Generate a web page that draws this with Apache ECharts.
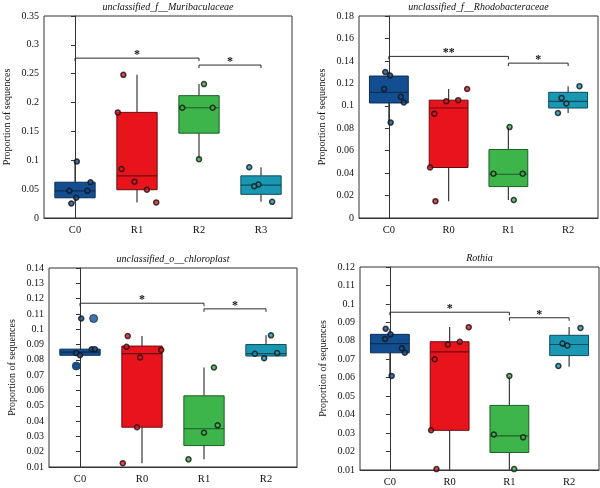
<!DOCTYPE html>
<html>
<head>
<meta charset="utf-8">
<script src="https://cdn.jsdelivr.net/npm/echarts@6/dist/echarts.min.js"></script>
<style>
  html, body { margin: 0; padding: 0; background: #fff; }
  #main { width: 600px; height: 488px; }
</style>
</head>
<body>
<div id="main"></div>
<script>
// panel 1
var title1 = 'unclassified_f__Muribaculaceae';
var cats1 = ['C0', 'R1', 'R2', 'R3'];
var box1 = [  // min, q1, median, q3, max
  [0.025, 0.035, 0.047, 0.062, 0.098],
  [0.027, 0.049, 0.073, 0.183, 0.248],
  [0.102, 0.147, 0.191, 0.212, 0.232],
  [0.028, 0.041, 0.057, 0.073, 0.088]
];
var pts1 = [
  [0.098, 0.062, 0.047, 0.047, 0.035, 0.025],
  [0.248, 0.183, 0.085, 0.063, 0.049, 0.027],
  [0.232, 0.191, 0.191, 0.102],
  [0.088, 0.058, 0.055, 0.028]
];
var jit1 = [
  [0.03, 0.25, -0.09, 0.2, 0.02, -0.06],
  [-0.22, -0.31, -0.25, -0.04, 0.16, 0.31],
  [0.08, -0.27, 0.22, 0],
  [-0.19, -0.04, -0.11, 0.18]
];
var sig1 = [[0, 2, 0.277], [2, 3, 0.265]];
var sigLab1 = ['*', '*'];

// panel 2
var title2 = 'unclassified_f__Rhodobacteraceae';
var cats2 = ['C0', 'R0', 'R1', 'R2'];
var box2 = [
  [0.085, 0.1025, 0.112, 0.1265, 0.130],
  [0.015, 0.045, 0.098, 0.105, 0.115],
  [0.016, 0.028, 0.039, 0.061, 0.081],
  [0.0935, 0.098, 0.104, 0.112, 0.1175]
];
var pts2 = [
  [0.130, 0.127, 0.115, 0.108, 0.103, 0.085],
  [0.115, 0.105, 0.104, 0.093, 0.045, 0.015],
  [0.081, 0.0395, 0.0395, 0.016],
  [0.1175, 0.107, 0.102, 0.0935]
];
var jit2 = [
  [-0.06, 0.02, -0.08, 0.2, 0.25, 0.03],
  [0.31, 0.16, -0.04, -0.24, -0.31, -0.22],
  [0.02, -0.25, 0.24, 0.09],
  [0.19, -0.11, -0.03, -0.17]
];
var sig2 = [[0, 2, 0.144], [2, 3, 0.138]];
var sigLab2 = ['**', '*'];

// panel 3
var title3 = 'unclassified_o__chloroplast';
var cats3 = ['C0', 'R0', 'R1', 'R2'];
var box3 = [
  [0.083, 0.083, 0.085, 0.087, 0.087],
  [0.0125, 0.036, 0.084, 0.089, 0.0955],
  [0.015, 0.024, 0.035, 0.0565, 0.075],
  [0.081, 0.0825, 0.084, 0.090, 0.096]
];
var pts3 = [
  [0.107, 0.087, 0.087, 0.0845, 0.083, 0.076],
  [0.0955, 0.0885, 0.0815, 0.0865, 0.036, 0.0125],
  [0.075, 0.0372, 0.0324, 0.015],
  [0.096, 0.084, 0.0845, 0.081]
];
var jit3 = [
  [0.02, 0.19, 0.24, -0.06, 0, -0.06],
  [-0.23, -0.25, -0.03, 0.31, -0.08, -0.31],
  [0.16, 0.22, 0, -0.25],
  [0.08, -0.18, 0.18, -0.03]
];
var out3 = [[0.107, 0.076], [], [], []];   // outliers (drawn bigger)
var outJit3 = [[0.22, -0.06], [], [], []];
var sig3 = [[0, 2, 0.117], [2, 3, 0.1133]];
var sigLab3 = ['*', '*'];

// panel 4
var title4 = 'Rothia';
var cats4 = ['C0', 'R0', 'R1', 'R2'];
var box4 = [
  [0.061, 0.0735, 0.0785, 0.0835, 0.0865],
  [0.010, 0.0315, 0.074, 0.0795, 0.0875],
  [0.010, 0.0195, 0.0285, 0.045, 0.061],
  [0.066, 0.072, 0.078, 0.083, 0.0875]
];
var pts4 = [
  [0.0865, 0.0835, 0.081, 0.076, 0.0735, 0.061],
  [0.0874, 0.0795, 0.078, 0.070, 0.0315, 0.0105],
  [0.061, 0.0292, 0.0277, 0.0105],
  [0.087, 0.0785, 0.0775, 0.0664]
];
var jit4 = [
  [-0.07, 0.01, -0.08, 0.2, 0.25, 0.03],
  [0.32, 0.17, -0.03, -0.25, -0.31, -0.22],
  [0, -0.26, 0.23, 0.08],
  [0.19, -0.11, -0.03, -0.18]
];
var sig4 = [[0, 2, 0.0955], [2, 3, 0.0925]];
var sigLab4 = ['*', '*'];

var font = "'Liberation Serif', 'DejaVu Serif', serif";
var fills = ['#134f90', '#e8131b', '#3db54a', '#1a97b3'];
var edges = ['#0b2c55', '#6a0c0f', '#1e5d26', '#0d4c5b'];

var panels = [
  { grid: { left: 44, top: 16, width: 248, height: 202 }, title: title1, min: 0, max: 0.35, step: 0.05,
    cats: cats1, box: box1, pts: pts1, jit: jit1, sig: sig1, sigLab: sigLab1 },
  { grid: { left: 359, top: 16, width: 239, height: 202 }, title: title2, min: 0, max: 0.18, step: 0.02,
    cats: cats2, box: box2, pts: pts2, jit: jit2, sig: sig2, sigLab: sigLab2 },
  { grid: { left: 49, top: 268, width: 248, height: 199 }, title: title3, min: 0.01, max: 0.14, step: 0.01,
    cats: cats3, box: box3, pts: pts3, jit: jit3, sig: sig3, sigLab: sigLab3, out: out3, outJit: outJit3 },
  { grid: { left: 360, top: 267, width: 239, height: 203 }, title: title4, min: 0.01, max: 0.12, step: 0.01,
    cats: cats4, box: box4, pts: pts4, jit: jit4, sig: sig4, sigLab: sigLab4 }
];

function fmt(v) {
  return String(+v.toFixed(3));
}

// box + whiskers without caps (ggplot look)
function renderBox(params, api) {
  var i = params.dataIndex;
  var x = api.value(0);
  var pMin = api.coord([x, api.value(1)]);
  var pQ1 = api.coord([x, api.value(2)]);
  var pMed = api.coord([x, api.value(3)]);
  var pQ3 = api.coord([x, api.value(4)]);
  var pMax = api.coord([x, api.value(5)]);
  var half = api.size([0.65, 0])[0] / 2;
  var cx = pQ1[0];
  return {
    type: 'group',
    children: [
      { type: 'line', shape: { x1: cx, y1: pQ3[1], x2: cx, y2: pMax[1] },
        style: { stroke: '#3a3a3a', lineWidth: 1.2 } },
      { type: 'line', shape: { x1: cx, y1: pQ1[1], x2: cx, y2: pMin[1] },
        style: { stroke: '#3a3a3a', lineWidth: 1.2 } },
      { type: 'rect', shape: { x: cx - half, y: pQ3[1], width: half * 2, height: pQ1[1] - pQ3[1] },
        style: { fill: fills[i], stroke: edges[i], lineWidth: 1 } },
      { type: 'line', shape: { x1: cx - half, y1: pMed[1], x2: cx + half, y2: pMed[1] },
        style: { stroke: edges[i], lineWidth: 1.2 } }
    ]
  };
}

function makeBracket(labels) {
  return function (params, api) {
    var a = api.coord([api.value(0), api.value(2)]);
    var b = api.coord([api.value(1), api.value(2)]);
    return {
      type: 'group',
      children: [
        { type: 'polyline',
          shape: { points: [[a[0], a[1] + 3], [a[0], a[1]], [b[0], b[1]], [b[0], b[1] + 3]] },
          style: { stroke: '#2a2a2a', fill: null, lineWidth: 1 } },
        { type: 'text', x: (a[0] + b[0]) / 2, y: a[1] + 3,
          style: { text: labels[params.dataIndex], align: 'center', verticalAlign: 'bottom',
                   fill: '#111', font: 'bold 12px ' + font } }
      ]
    };
  };
}

var grids = [], xAxes = [], yAxes = [], series = [], graphics = [];

panels.forEach(function (p, k) {
  grids.push({
    left: p.grid.left, top: p.grid.top, width: p.grid.width, height: p.grid.height,
    show: true, borderColor: '#333', borderWidth: 1, backgroundColor: 'transparent'
  });
  xAxes.push({
    type: 'category', gridIndex: k, data: p.cats, boundaryGap: true,
    axisLine: { lineStyle: { color: '#333' } },
    axisTick: { alignWithLabel: true, length: 4, lineStyle: { color: '#333' } },
    axisLabel: { color: '#111', fontSize: 10.5, fontFamily: font, margin: 7 }
  });
  xAxes.push({ type: 'value', gridIndex: k, min: -0.5, max: p.cats.length - 0.5, show: false });
  yAxes.push({
    type: 'value', gridIndex: k, min: p.min, max: p.max, interval: p.step,
    name: 'Proportion of sequences', nameLocation: 'middle', nameGap: 32,
    nameTextStyle: { color: '#111', fontSize: 10, fontFamily: font },
    axisLine: { show: true, lineStyle: { color: '#333' } },
    axisTick: { show: true, length: 4, lineStyle: { color: '#333' } },
    splitLine: { show: false },
    axisLabel: { color: '#111', fontSize: 10, fontFamily: font, margin: 5, formatter: fmt }
  });

  var boxData = p.box.map(function (b, i) { return [i].concat(b); });
  series.push({
    type: 'custom', xAxisIndex: 2 * k + 1, yAxisIndex: k,
    renderItem: renderBox, data: boxData, encode: { x: 0, y: [1, 2, 3, 4, 5] }, z: 2
  });

  var ptData = [];
  p.pts.forEach(function (arr, i) {
    arr.forEach(function (v, j) {
      ptData.push({ value: [i + p.jit[i][j], v], itemStyle: { color: fills[i] } });
    });
  });
  series.push({
    type: 'scatter', xAxisIndex: 2 * k + 1, yAxisIndex: k, data: ptData,
    symbolSize: 5, itemStyle: { borderColor: '#141414', borderWidth: 1.5 }, z: 4
  });

  if (p.out) {
    var outData = [];
    p.out.forEach(function (arr, i) {
      arr.forEach(function (v, j) {
        outData.push({ value: [i + p.outJit[i][j], v], itemStyle: { color: fills[i] } });
      });
    });
    series.push({
      type: 'scatter', xAxisIndex: 2 * k + 1, yAxisIndex: k, data: outData,
      symbolSize: 8, itemStyle: { borderColor: '#0b2c55', borderWidth: 1 }, z: 5
    });
  }

  series.push({
    type: 'custom', xAxisIndex: 2 * k + 1, yAxisIndex: k,
    renderItem: makeBracket(p.sigLab), data: p.sig, encode: { x: [0, 1], y: 2 }, z: 6
  });

  graphics.push({
    type: 'text', x: p.grid.left + p.grid.width / 2, y: p.grid.top - 4,
    style: { text: p.title, align: 'center', verticalAlign: 'bottom',
             fill: '#111', font: 'italic 10px ' + font }
  });
});

var chart = echarts.init(document.getElementById('main'), null, { renderer: 'canvas' });
chart.setOption({
  animation: false,
  backgroundColor: '#fff',
  grid: grids,
  xAxis: xAxes,
  yAxis: yAxes,
  series: series,
  graphic: graphics
});
</script>
</body>
</html>
